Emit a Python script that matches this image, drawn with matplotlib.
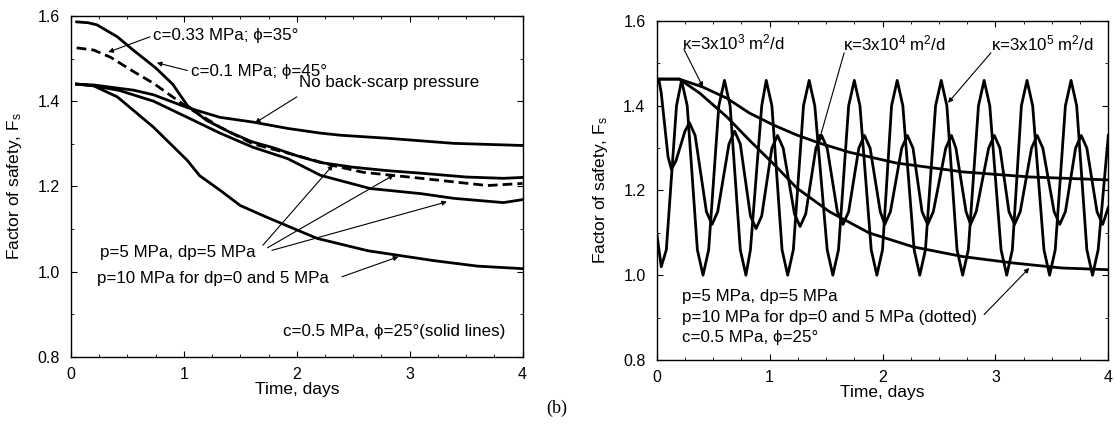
import numpy as np
import matplotlib
matplotlib.use("Agg")
from matplotlib import pyplot as plt
from matplotlib.ticker import MultipleLocator, FormatStrFormatter

plt.rcParams['font.family'] = ['Liberation Sans', 'DejaVu Sans']
plt.rcParams['mathtext.fontset'] = 'custom'
plt.rcParams['mathtext.rm'] = 'Liberation Sans'
plt.rcParams['mathtext.it'] = 'Liberation Sans'

# ---- left panel: back-scarp pressure cases ----
t_c01 = [0.05, 0.15, 0.23, 0.41, 0.55, 0.75, 0.9, 1.03, 1.2, 1.4, 1.6, 1.8, 2.0, 2.21, 2.5, 2.8, 3.1, 3.5, 3.83, 4.0]
f_c01 = [1.586, 1.584, 1.579, 1.551, 1.52, 1.478, 1.44, 1.39, 1.355, 1.328, 1.305, 1.29, 1.272, 1.256, 1.245, 1.237, 1.231, 1.222, 1.219, 1.221]

t_c033 = [0.05, 0.2, 0.35, 0.55, 0.73, 0.9, 1.03, 1.32, 1.61, 1.92, 2.32, 2.59, 3.1, 3.69, 4.0]
f_c033 = [1.525, 1.52, 1.503, 1.47, 1.442, 1.41, 1.386, 1.339, 1.30, 1.278, 1.249, 1.233, 1.219, 1.202, 1.207]

t_noscarp = [0.05, 0.2, 0.43, 0.55, 0.73, 1.03, 1.32, 1.61, 1.92, 2.21, 2.39, 2.8, 3.39, 4.0]
f_noscarp = [1.44, 1.438, 1.43, 1.426, 1.415, 1.385, 1.362, 1.351, 1.336, 1.325, 1.32, 1.313, 1.301, 1.296]

t_p5 = [0.05, 0.2, 0.43, 0.73, 1.03, 1.32, 1.61, 1.92, 2.21, 2.65, 3.1, 3.39, 3.83, 4.0]
f_p5 = [1.44, 1.436, 1.425, 1.40, 1.362, 1.325, 1.292, 1.265, 1.226, 1.195, 1.183, 1.172, 1.162, 1.169]

t_p10 = [0.05, 0.2, 0.41, 0.55, 0.73, 1.03, 1.14, 1.32, 1.5, 1.74, 2.18, 2.63, 3.21, 3.6, 4.0]
f_p10 = [1.44, 1.436, 1.41, 1.379, 1.339, 1.261, 1.225, 1.191, 1.155, 1.127, 1.078, 1.049, 1.026, 1.013, 1.007]

# ---- right panel: diffusivity cases ----
t_k3 = [0.02, 0.2, 0.41, 0.62, 0.82, 1.03, 1.24, 1.44, 1.71, 2.12, 2.71, 3.3, 4.0]
f_k3 = [1.463, 1.463, 1.444, 1.418, 1.383, 1.355, 1.331, 1.312, 1.29, 1.265, 1.244, 1.232, 1.225]

t_dot = [0.02, 0.2, 0.38, 0.62, 0.82, 1.06, 1.24, 1.53, 1.88, 2.27, 2.71, 3.15, 3.59, 4.0]
f_dot = [1.463, 1.463, 1.43, 1.374, 1.319, 1.256, 1.206, 1.15, 1.10, 1.067, 1.044, 1.029, 1.017, 1.013]

# kappa = 3e4 m2/d (smaller swing)
t_k4 = [0.02, 0.04, 0.10, 0.13, 0.17, 0.25, 0.29, 0.34, 0.44, 0.49, 0.54, 0.64, 0.69, 0.74, 0.83,
        0.88, 0.93, 1.02, 1.07, 1.12, 1.22, 1.27, 1.32, 1.41, 1.46, 1.51, 1.60, 1.65, 1.70, 1.79,
        1.84, 1.89, 1.98, 2.02, 2.07, 2.17, 2.22, 2.27, 2.35, 2.40, 2.45, 2.56, 2.61, 2.65, 2.74,
        2.78, 2.83, 2.94, 2.99, 3.04, 3.12, 3.17, 3.22, 3.32, 3.37, 3.42, 3.52, 3.57, 3.62, 3.71,
        3.76, 3.81, 3.90, 3.95, 4.0]
f_k4 = [1.46, 1.43, 1.28, 1.25, 1.27, 1.34, 1.36, 1.33, 1.15, 1.12, 1.15, 1.31, 1.34, 1.31, 1.14,
        1.11, 1.14, 1.30, 1.33, 1.30, 1.145, 1.115, 1.145, 1.30, 1.33, 1.30, 1.15, 1.12, 1.15, 1.30,
        1.33, 1.30, 1.15, 1.12, 1.15, 1.30, 1.33, 1.30, 1.15, 1.12, 1.15, 1.30, 1.33, 1.30, 1.15,
        1.12, 1.15, 1.30, 1.33, 1.30, 1.15, 1.12, 1.15, 1.30, 1.33, 1.30, 1.15, 1.12, 1.15, 1.30,
        1.33, 1.30, 1.15, 1.12, 1.16]

# kappa = 3e5 m2/d (full swing)
t_k5 = [0.0, 0.04, 0.085, 0.175, 0.22, 0.27, 0.36, 0.41, 0.46, 0.55, 0.60, 0.65, 0.74, 0.79, 0.83,
        0.93, 0.97, 1.02, 1.11, 1.16, 1.21, 1.30, 1.35, 1.40, 1.51, 1.56, 1.61, 1.70, 1.75, 1.80,
        1.90, 1.95, 2.00, 2.08, 2.13, 2.18, 2.28, 2.33, 2.38, 2.47, 2.52, 2.57, 2.66, 2.71, 2.76,
        2.85, 2.90, 2.95, 3.05, 3.10, 3.15, 3.23, 3.28, 3.33, 3.43, 3.48, 3.53, 3.62, 3.67, 3.72,
        3.81, 3.86, 3.91, 4.0]
f_k5 = [1.10, 1.02, 1.06, 1.40, 1.46, 1.40, 1.06, 1.0, 1.06, 1.40, 1.46, 1.40, 1.06, 1.0, 1.06,
        1.40, 1.46, 1.40, 1.06, 1.0, 1.06, 1.40, 1.46, 1.40, 1.06, 1.0, 1.06, 1.40, 1.46, 1.40,
        1.06, 1.0, 1.06, 1.40, 1.46, 1.40, 1.06, 1.0, 1.06, 1.40, 1.46, 1.40, 1.06, 1.0, 1.06,
        1.40, 1.46, 1.40, 1.06, 1.0, 1.06, 1.40, 1.46, 1.40, 1.06, 1.0, 1.06, 1.40, 1.46, 1.40,
        1.06, 1.0, 1.06, 1.33]

FS = 11.5    # tick labels
FA = 12.2    # annotations
FL = 12.5    # axis labels
LW = 2.0


def style_axes(ax, label_x):
    ax.set_xlim(0, 4)
    ax.set_ylim(0.8, 1.6)
    ax.xaxis.set_major_locator(MultipleLocator(1))
    ax.xaxis.set_minor_locator(MultipleLocator(0.25))
    ax.yaxis.set_major_locator(MultipleLocator(0.2))
    ax.yaxis.set_minor_locator(MultipleLocator(0.1))
    ax.yaxis.set_major_formatter(FormatStrFormatter('%.1f'))
    ax.tick_params(which='both', direction='in', top=True, right=True, labelsize=FS)
    ax.tick_params(which='major', length=4, width=0.8)
    ax.tick_params(which='minor', length=2, width=0.6)
    ax.tick_params(axis='y', pad=8)
    ax.tick_params(axis='x', pad=7)
    for s in ax.spines.values():
        s.set_linewidth(1.0)
    ax.set_xlabel('Time, days', fontsize=FL)
    ax.set_ylabel('Factor of safety, F$_s$', fontsize=FL)
    ax.xaxis.set_label_coords(0.5, -0.075)
    ax.yaxis.set_label_coords(label_x, 0.5)


def arrow(ax, tail, tip):
    ax.annotate('', xy=tip, xytext=tail,
                arrowprops=dict(arrowstyle='-|>', lw=0.8, color='k',
                                mutation_scale=7, shrinkA=0, shrinkB=0))


fig = plt.figure(figsize=(11.15, 4.3), dpi=100)
axl = fig.add_axes([0.0637, 0.170, 0.405, 0.793])
axr = fig.add_axes([0.589, 0.163, 0.405, 0.788])

# left
axl.plot(t_c01, f_c01, color='k', lw=LW)
axl.plot(t_c033, f_c033, color='k', lw=LW, dashes=(3.5, 1.8))
axl.plot(t_noscarp, f_noscarp, color='k', lw=LW)
axl.plot(t_p5, f_p5, color='k', lw=LW)
axl.plot(t_p10, f_p10, color='k', lw=LW)
style_axes(axl, -0.105)

axl.text(0.73, 1.555, 'c=0.33 MPa; ϕ=35°', fontsize=FA, va='center')
arrow(axl, (0.70, 1.551), (0.33, 1.515))
axl.text(1.06, 1.469, 'c=0.1 MPa; ϕ=45°', fontsize=FA, va='center')
arrow(axl, (1.03, 1.472), (0.76, 1.49))
axl.text(2.02, 1.443, 'No back-scarp pressure', fontsize=FA, va='center')
arrow(axl, (2.0, 1.41), (1.63, 1.349))
axl.text(0.26, 1.044, 'p=5 MPa, dp=5 MPa', fontsize=FA, va='center')
arrow(axl, (1.70, 1.062), (2.32, 1.25))
arrow(axl, (1.74, 1.056), (2.86, 1.227))
arrow(axl, (1.78, 1.050), (3.33, 1.164))
axl.text(0.23, 0.985, 'p=10 MPa for dp=0 and 5 MPa', fontsize=FA, va='center')
arrow(axl, (2.40, 0.988), (2.90, 1.035))
axl.text(1.88, 0.859, 'c=0.5 MPa, ϕ=25°(solid lines)', fontsize=FA, va='center')

# right
axr.plot(t_k5, f_k5, color='k', lw=LW)
axr.plot(t_k4, f_k4, color='k', lw=LW)
axr.plot(t_k3, f_k3, color='k', lw=LW)
axr.plot(t_dot, f_dot, color='k', lw=LW)
style_axes(axr, -0.104)

axr.text(0.22, 1.55, r'κ=3x10$^{3}$ m$^{2}$/d', fontsize=FA, va='center')
arrow(axr, (0.24, 1.534), (0.41, 1.444))
axr.text(1.65, 1.548, r'κ=3x10$^{4}$ m$^{2}$/d', fontsize=FA, va='center')
arrow(axr, (1.66, 1.525), (1.44, 1.319))
axr.text(2.96, 1.548, r'κ=3x10$^{5}$ m$^{2}$/d', fontsize=FA, va='center')
arrow(axr, (2.96, 1.525), (2.58, 1.407))
axr.text(0.22, 0.949, 'p=5 MPa, dp=5 MPa', fontsize=FA, va='center')
axr.text(0.22, 0.90, 'p=10 MPa for dp=0 and 5 MPa (dotted)', fontsize=FA, va='center')
axr.text(0.22, 0.852, 'c=0.5 MPa, ϕ=25°', fontsize=FA, va='center')
arrow(axr, (2.90, 0.907), (3.30, 1.017))

fig.text(557 / 1115, 1 - 408 / 430, '(b)', ha='center', va='center',
         fontsize=13, family='Liberation Serif')

fig.savefig('out.png', dpi=100)
